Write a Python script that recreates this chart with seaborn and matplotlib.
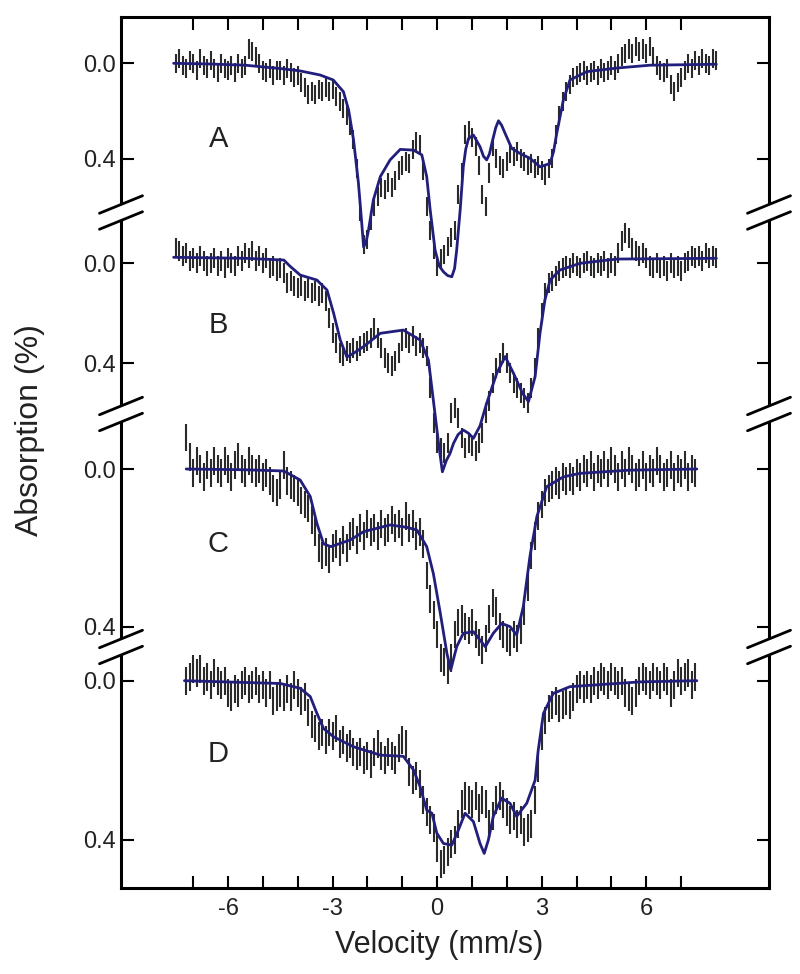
import numpy as np
import matplotlib
matplotlib.use("Agg")
import matplotlib.pyplot as plt
import matplotlib.transforms as mtransforms
import pandas as pd
import seaborn as sns

# ---------------- data (absorption in %, velocity in mm/s) ----------------
panel_names = ["A", "B", "C", "D"]

vel_AB = np.round(np.arange(-7.5, 8.05, 0.1), 2)   # spectrometer channels
vel_CD = np.round(np.arange(-7.2, 7.45, 0.1), 2)

data_A = [0.00, -0.02, 0.01, 0.02, -0.01, 0.00, 0.03, -0.02, 0.01, 0.02,
          -0.01, 0.02, 0.04, 0.00, 0.02, 0.03, 0.01, 0.04, 0.00, 0.02,
          0.01, -0.06, -0.05, -0.03, 0.00, 0.03, 0.04, 0.02, 0.05, 0.03,
          0.03, 0.05, 0.02, 0.04, 0.06, 0.05, 0.08, 0.10, 0.13, 0.12,
          0.13, 0.11, 0.12, 0.10, 0.12, 0.11, 0.14, 0.16, 0.19, 0.22,
          0.26, 0.32, 0.44, 0.62, 0.76, 0.74, 0.66, 0.60, 0.56, 0.52,
          0.53, 0.50, 0.52, 0.49, 0.45, 0.43, 0.41, 0.42, 0.36, 0.33,
          0.34, 0.45, 0.60, 0.70, 0.78, 0.85, 0.82, 0.80, 0.77, 0.73,
          0.70, 0.55, 0.46, 0.30, 0.28, 0.31, 0.35, 0.43, 0.55, 0.60,
          0.46, 0.35, 0.40, 0.43, 0.44, 0.41, 0.38, 0.39, 0.37, 0.40,
          0.41, 0.43, 0.42, 0.44, 0.43, 0.45, 0.47, 0.44, 0.40, 0.30,
          0.22, 0.16, 0.12, 0.09, 0.06, 0.05, 0.04, 0.03, 0.05, 0.04,
          0.03, 0.05, 0.02, 0.04, 0.03, 0.01, 0.03, 0.00, -0.03, -0.04,
          -0.06, -0.04, -0.07, -0.05, -0.06, -0.04, -0.07, -0.03, 0.01, 0.03,
          0.04, 0.02, 0.09, 0.12, 0.08, 0.06, 0.03, 0.00, 0.02, -0.01,
          0.01, -0.02, 0.00, 0.01, -0.02, -0.01]

data_B = [-0.06, -0.05, -0.03, -0.04, -0.01, -0.02, 0.00, -0.03, -0.01, 0.01,
          0.00, -0.02, 0.01, -0.01, 0.02, -0.02, 0.00, 0.01, -0.03, -0.01,
          -0.04, -0.02, -0.05, -0.01, -0.03, 0.00, -0.02, 0.02, 0.01, 0.03,
          0.02, 0.04, 0.08, 0.07, 0.09, 0.10, 0.09, 0.11, 0.10, 0.12,
          0.11, 0.13, 0.12, 0.15, 0.22, 0.28, 0.32, 0.36, 0.37, 0.35,
          0.36, 0.34, 0.35, 0.33, 0.32, 0.31, 0.30, 0.26, 0.30, 0.34,
          0.38, 0.40, 0.41, 0.39, 0.36, 0.31, 0.30, 0.32, 0.29, 0.33,
          0.32, 0.34, 0.37, 0.50, 0.64, 0.72, 0.74, 0.76, 0.72, 0.60,
          0.58, 0.62, 0.70, 0.74, 0.72, 0.73, 0.75, 0.72, 0.68, 0.60,
          0.55, 0.48, 0.42, 0.40, 0.36, 0.40, 0.44, 0.48, 0.50, 0.52,
          0.54, 0.56, 0.50, 0.42, 0.30, 0.20, 0.12, 0.08, 0.07, 0.05,
          0.03, 0.02, 0.01, 0.02, 0.00, 0.01, 0.02, 0.00, -0.01, 0.01,
          0.02, 0.00, 0.01, -0.01, 0.02, 0.00, 0.01, -0.04, -0.09, -0.12,
          -0.10, -0.06, -0.05, -0.03, -0.04, -0.02, 0.01, 0.02, 0.00, 0.02,
          0.01, 0.03, 0.00, 0.02, 0.01, 0.03, 0.00, -0.01, -0.03, -0.02,
          -0.03, -0.01, -0.04, -0.02, -0.03, -0.02]

data_C = [-0.08, -0.03, 0.01, -0.02, 0.00, 0.02, -0.01, 0.01, -0.02, 0.00,
          0.01, -0.02, 0.00, 0.02, -0.01, -0.03, 0.00, 0.01, -0.02, 0.00,
          0.01, 0.00, 0.02, 0.01, 0.03, 0.05, 0.06, 0.04, -0.01, 0.03,
          0.04, 0.05, 0.06, 0.08, 0.09, 0.10, 0.13, 0.16, 0.20, 0.22,
          0.21, 0.23, 0.20, 0.19, 0.21, 0.18, 0.20, 0.17, 0.16, 0.18,
          0.15, 0.17, 0.14, 0.16, 0.15, 0.17, 0.14, 0.16, 0.15, 0.13,
          0.15, 0.14, 0.16, 0.12, 0.15, 0.14, 0.17, 0.16, 0.19, 0.27,
          0.33, 0.37, 0.42, 0.48, 0.49, 0.51, 0.48, 0.42, 0.39, 0.38,
          0.40, 0.41, 0.39, 0.42, 0.44, 0.46, 0.43, 0.38, 0.34, 0.36,
          0.40, 0.42, 0.43, 0.44, 0.42, 0.43, 0.41, 0.36, 0.30, 0.22,
          0.17, 0.12, 0.09, 0.06, 0.05, 0.04, 0.03, 0.04, 0.02, 0.03,
          0.02, 0.03, 0.01, 0.02, 0.00, 0.01, -0.01, 0.02, 0.00, 0.01,
          -0.01, 0.01, -0.02, 0.00, 0.02, -0.01, 0.01, -0.02, 0.00, 0.02,
          0.01, -0.01, 0.02, 0.00, 0.01, -0.02, 0.00, 0.02, 0.01, -0.01,
          0.02, 0.00, 0.01, -0.01, 0.02, 0.00, 0.01]

data_D = [0.00, -0.01, -0.03, -0.02, -0.03, 0.00, -0.01, 0.01, -0.02, 0.00,
          0.01, 0.00, 0.03, 0.04, 0.02, 0.03, 0.01, 0.00, 0.02, 0.01,
          0.00, 0.02, 0.01, 0.03, 0.01, 0.05, 0.04, 0.03, 0.04, 0.02,
          0.04, 0.01, 0.03, 0.05, 0.04, 0.08, 0.11, 0.12, 0.14, 0.13,
          0.15, 0.13, 0.14, 0.12, 0.16, 0.15, 0.17, 0.16, 0.18, 0.19,
          0.18, 0.20, 0.19, 0.21, 0.18, 0.16, 0.19, 0.20, 0.18, 0.19,
          0.20, 0.17, 0.15, 0.16, 0.23, 0.25, 0.24, 0.26, 0.30, 0.33,
          0.35, 0.37, 0.42, 0.46, 0.45, 0.43, 0.41, 0.40, 0.36, 0.31,
          0.29, 0.30, 0.31, 0.29, 0.32, 0.30, 0.31, 0.36, 0.34, 0.30,
          0.29, 0.31, 0.33, 0.35, 0.34, 0.36, 0.35, 0.38, 0.37, 0.36,
          0.30, 0.22, 0.14, 0.10, 0.07, 0.06, 0.05, 0.07, 0.06, 0.05,
          0.06, 0.04, 0.02, 0.01, 0.02, 0.01, 0.02, 0.00, 0.01, -0.01,
          0.00, 0.01, -0.01, 0.00, 0.01, 0.00, 0.03, 0.04, 0.05, 0.03,
          0.00, -0.01, 0.00, 0.01, -0.01, 0.00, 0.01, -0.01, 0.00, 0.03,
          0.01, -0.02, 0.00, -0.01, -0.02, 0.01, -0.01]

err_A, err_B, err_C, err_D = 0.04, 0.04, 0.035, 0.035

# fitted curves
fit_v_A = [-7.56, -6.5, -5.5, -5.08, -4.5, -3.93, -3.36, -2.98, -2.69, -2.54,
           -2.40, -2.26, -2.18, -2.11, -2.04, -1.97, -1.83, -1.63, -1.35, -1.06,
           -0.68, -0.44, -0.30, -0.20, -0.06, 0.06, 0.18, 0.30, 0.42, 0.50,
           0.56, 0.66, 0.75, 0.82, 0.90, 1.04, 1.23, 1.33, 1.42, 1.50,
           1.57, 1.68, 1.76, 1.85, 1.95, 2.14, 2.40, 2.66, 2.95, 3.24,
           3.34, 3.43, 3.53, 3.62, 3.81, 4.29, 5.15, 6.10, 8.01]
fit_A = [0.0, 0.003, 0.008, 0.014, 0.022, 0.032, 0.049, 0.07, 0.119, 0.196,
         0.32, 0.50, 0.64, 0.77, 0.75, 0.70, 0.573, 0.475, 0.405, 0.361,
         0.364, 0.384, 0.475, 0.615, 0.783, 0.85, 0.874, 0.89, 0.895, 0.86,
         0.783, 0.615, 0.434, 0.36, 0.315, 0.301, 0.35, 0.39, 0.405, 0.38,
         0.335, 0.27, 0.241, 0.26, 0.294, 0.357, 0.38, 0.398, 0.434, 0.42,
         0.37, 0.294, 0.22, 0.154, 0.07, 0.035, 0.02, 0.008, 0.004]

fit_v_B = [-7.56, -5.5, -4.40, -4.21, -3.93, -3.45, -3.16, -2.97, -2.78, -2.59,
           -2.40, -2.11, -1.63, -0.97, -0.49, -0.25, -0.11, 0.04, 0.15, 0.26,
           0.37, 0.47, 0.60, 0.75, 0.90, 1.04, 1.23, 1.42, 1.71, 1.95,
           2.19, 2.45, 2.62, 2.81, 2.95, 3.09, 3.24, 3.52, 4.10, 5.15,
           8.01]
fit_B = [-0.024, -0.02, -0.013, 0.013, 0.047, 0.067, 0.107, 0.20, 0.307, 0.375,
         0.36, 0.333, 0.28, 0.267, 0.307, 0.387, 0.547, 0.72, 0.834, 0.79,
         0.76, 0.72, 0.685, 0.667, 0.68, 0.70, 0.65, 0.56, 0.44, 0.373,
         0.44, 0.52, 0.553, 0.453, 0.28, 0.147, 0.067, 0.027, 0.0, -0.017,
         -0.02]

fit_v_C = [-7.2, -5.5, -4.40, -3.93, -3.64, -3.45, -3.26, -3.05, -2.49, -2.11,
           -1.35, -0.87, -0.58, -0.30, -0.11, 0.09, 0.28, 0.39, 0.56, 0.75,
           1.04, 1.38, 1.61, 1.85, 2.09, 2.28, 2.47, 2.66, 2.86, 3.14,
           3.62, 4.10, 5.5, 7.45]
fit_C = [0.0, 0.002, 0.005, 0.028, 0.07, 0.138, 0.19, 0.197, 0.18, 0.159,
         0.142, 0.148, 0.155, 0.197, 0.265, 0.366, 0.468, 0.51, 0.451, 0.417,
         0.413, 0.451, 0.417, 0.392, 0.40, 0.421, 0.35, 0.223, 0.121, 0.045,
         0.02, 0.011, 0.003, 0.0]

fit_v_D = [-7.25, -4.5, -3.93, -3.64, -3.45, -3.26, -2.97, -2.40, -1.63, -0.97,
           -0.68, -0.49, -0.30, -0.15, -0.01, 0.18, 0.42, 0.61, 0.80, 1.04,
           1.23, 1.35, 1.47, 1.61, 1.85, 2.09, 2.28, 2.57, 2.81, 2.90,
           3.05, 3.33, 3.81, 5.82, 7.45]
fit_D = [0.0, 0.007, 0.019, 0.04, 0.082, 0.12, 0.141, 0.166, 0.187, 0.19,
         0.224, 0.266, 0.325, 0.333, 0.383, 0.409, 0.413, 0.375, 0.333, 0.354,
         0.409, 0.434, 0.40, 0.341, 0.295, 0.308, 0.341, 0.308, 0.25, 0.174,
         0.082, 0.032, 0.015, 0.003, 0.0]

x_tick_values = [-6, -3, 0, 3, 6]
x_tick_labels = ["-6", "-3", "0", "3", "6"]
x_minor_ticks = [-7, -6, -5, -4, -3, -2, -1, 0, 1, 2, 3, 4, 5, 6, 7]
y_tick_values = [0.0, 0.4]
y_tick_labels = ["0.0", "0.4"]

# ---------------- layout (stacking of the four spectra) ----------------
# vertical stack coordinate: baseline position and scale per unit absorption
stack = {"A": (63.3, 238.5), "B": (263.3, 250.0), "C": (469.0, 394.0), "D": (680.7, 398.0)}
letter_pos = {"A": 147, "B": 333, "C": 552, "D": 762}
break_centers = [212.5, 414.0, 647.0]

panels = [("A", vel_AB, data_A, err_A, fit_v_A, fit_A),
          ("B", vel_AB, data_B, err_B, fit_v_B, fit_B),
          ("C", vel_CD, data_C, err_C, fit_v_C, fit_C),
          ("D", vel_CD, data_D, err_D, fit_v_D, fit_D)]

sns.set_theme(style="ticks")
plt.rcParams["font.family"] = ["Liberation Sans", "DejaVu Sans"]
plt.rcParams["axes.unicode_minus"] = False

fig = plt.figure(figsize=(8, 9.74), dpi=100)
fig.patch.set_facecolor("white")
ax = fig.add_axes([121 / 800, 1 - 888 / 974, 648 / 800, 871 / 974])
ax.set_facecolor("white")

fit_color = "#221f7c"
bar_color = "#2a2a2a"

ytick_pos, ytick_lab = [], []
for name, vel, ab, err, fv, fa in panels:
    base, scale = stack[name]
    assert len(vel) == len(ab), (name, len(vel), len(ab))
    assert len(fv) == len(fa), name
    y = base + np.asarray(ab) * scale
    e = err * scale
    ax.vlines(vel, y - e, y + e, color=bar_color, lw=1.5, zorder=2)
    df = pd.DataFrame({"v": fv, "y": base + np.asarray(fa) * scale})
    sns.lineplot(data=df, x="v", y="y", ax=ax, color=fit_color, lw=2.0,
                 sort=False, estimator=None, zorder=3)
    ax.text(-6.28, letter_pos[name], name, fontsize=21, ha="center",
            va="baseline", color="#222222")
    for tv, tl in zip(y_tick_values, y_tick_labels):
        ytick_pos.append(base + tv * scale)
        ytick_lab.append(tl)

ax.set_xlim(-9.07, 9.52)
ax.set_ylim(888, 17)

ax.set_xticks(x_minor_ticks)
ax.set_xticklabels([str(t) if t in x_tick_values else "" for t in x_minor_ticks])
ax.set_yticks(ytick_pos)
ax.set_yticklabels(ytick_lab)

ax.tick_params(axis="both", which="both", direction="in", length=9, width=1.5,
               color="black", labelsize=17, labelcolor="#222222",
               top=True, right=True, labeltop=False, labelright=False)
ax.tick_params(axis="y", pad=4)
ax.tick_params(axis="x", pad=7)

for sp in ax.spines.values():
    sp.set_linewidth(2.2)
    sp.set_color("black")
    sp.set_visible(True)

ax.set_xlabel("Velocity (mm/s)", fontsize=22, color="#222222")
ax.xaxis.set_label_coords(0.491, -0.066)
ax.xaxis.label.set_verticalalignment("center")
ax.set_ylabel("Absorption (%)", fontsize=23, color="#222222")
ax.yaxis.set_label_coords(-0.1405, 0.526)
ax.yaxis.label.set_verticalalignment("center")

# axis break marks on both vertical spines
trans = mtransforms.blended_transform_factory(ax.transAxes, ax.transData)
dx = 21.5 / 648
for c in break_centers:
    for x0 in (0.0, 1.0):
        ax.plot([x0, x0], [c - 8, c + 8], color="white", lw=4, transform=trans,
                clip_on=False, zorder=6, solid_capstyle="butt")
        for yc in (c - 8, c + 8):
            ax.plot([x0 - dx, x0 + dx], [yc + 8.75, yc - 8.75], color="black",
                    lw=2.0, transform=trans, clip_on=False, zorder=7)

fig.savefig("out.png", dpi=100, facecolor="white")
